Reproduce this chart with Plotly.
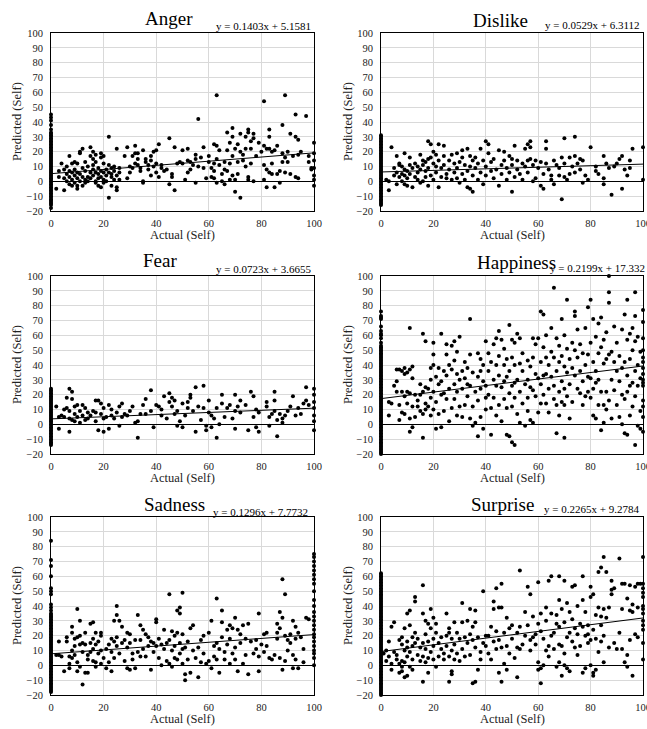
import plotly.graph_objects as go

W, H = 647, 729

# ---------------- DATA ----------------
titles = ["Anger", "Dislike", "Fear", "Happiness", "Sadness", "Surprise"]
slopes = [0.1403, 0.0529, 0.0723, 0.2199, 0.1296, 0.2265]
intercepts = [5.1581, 6.3112, 3.6655, 17.332, 7.7732, 9.2784]
equations = ["y = 0.1403x + 5.1581", "y = 0.0529x + 6.3112", "y = 0.0723x + 3.6655",
             "y = 0.2199x + 17.332", "y = 0.1296x + 7.7732", "y = 0.2265x + 9.2784"]
x_ticks = [0, 20, 40, 60, 80, 100]
y_ticks = [-20, -10, 0, 10, 20, 30, 40, 50, 60, 70, 80, 90, 100]

anger_pts = [(2,-5),(3,3),(3,7),(4,12),(5,8),(5,-6),(5,2),(6,10),(6,5),(6,0),(7,-2),(7,7),(7,17),(7,3),(8,1),(8,-3),(8,6),(8,12),(9,13),(9,4),(9,-1),(9,8),(10,2),(10,-5),(10,6),(10,12),(10,-3),
    (11,20),(11,19),(11,5),(11,0),(12,22),(12,9),(12,3),(12,-3),(13,13),(13,7),(13,1),(13,-1),(14,10),(14,3),(14,0),(15,23),(15,17),(15,6),(15,2),(16,15),(16,11),(16,8),(16,4),(16,20),(17,18),(17,13),(17,6),(17,0),(17,-1),(18,9),(18,5),(18,2),(18,-3),(19,19),(19,16),(19,7),(19,3),(19,-4),(20,17),(20,12),(20,6),(20,1),(20,-1),
    (21,8),(21,4),(21,0),(22,11),(22,6),(22,-11),(22,30),(23,9),(23,3),(23,-3),(23,5),(24,7),(24,1),(24,10),(25,22),(25,4),(25,-6),(25,-4),(26,9),(26,6),(26,1),(28,17),(29,23),(29,2),(30,6),(30,10),
    (31,17),(31,9),(32,24),(32,19),(32,12),(33,19),(33,15),(33,11),(34,9),(34,7),(35,-1),(35,0),(35,21),(36,15),(36,13),(37,8),(37,11),(38,17),(38,14),(38,4),(39,10),(39,20),(40,6),(40,12),(40,21),
    (41,25),(41,3),(42,11),(42,9),(43,7),(44,8),(45,29),(45,-2),(46,5),(46,3),(47,-6),(47,23),(48,12),(49,13),(50,12),(50,21),(51,1),
    (52,22),(52,14),(52,6),(53,13),(53,8),(54,11),(55,-1),(55,15),(55,18),(56,42),(56,10),(57,16),(58,23),(58,9),(59,2),(60,17),(60,13),
    (61,9),(61,3),(62,25),(62,12),(62,7),(62,2),(63,58),(63,24),(63,15),(63,-1),(64,21),(64,11),(65,5),(65,0),(66,13),(66,8),(66,-2),(67,33),(67,21),(67,7),(68,26),(68,12),(68,1),(69,36),(69,30),(69,17),(69,4),(70,22),(70,1),(70,-7),
    (71,25),(71,13),(71,5),(72,20),(72,-11),(72,32),(73,18),(73,14),(74,30),(74,22),(74,10),(75,35),(75,33),(75,3),(75,1),(76,27),(76,22),(76,12),(77,32),(77,29),(77,0),(78,17),(79,26),(80,20),
    (81,54),(81,24),(81,11),(81,1),(82,22),(82,-4),(82,8),(83,35),(83,30),(83,22),(83,6),(84,20),(84,12),(84,5),(85,-4),(85,21),(86,24),(86,5),(87,-1),(87,7),(88,38),(88,19),(88,13),(89,58),(89,16),(89,6),
    (90,20),(90,13),(91,32),(91,5),(92,17),(93,30),(93,45),(93,3),(94,28),(94,18),(94,2),(95,20),(97,44),(98,17),(98,13),(99,9),(99,8),
    (100,26),(100,19),(100,14),(100,9),(100,4),(100,-3),(100,1)]
anger_zero_y = [-18,-16,-15,-14,-13,-12,-11,-10,-9,-8,-7,-6,-5,-4,-3,-2,-1,0,1,2,3,4,5,6,7,8,9,10,11,12,13,14,15,16,17,18,19,20,21,22,23,24,25,26,27,28,29,30,31,32,33,35,38,41,43,45]

dislike_pts = [(2,1),(3,-6),(3,0),(4,23),(5,9),(5,4),(6,17),(6,-2),(6,6),(7,12),(7,11),(7,3),(8,10),(8,5),(8,0),(9,19),(9,8),(9,-2),(9,4),(10,7),(10,2),(10,-3),(11,16),(11,11),(11,5),(12,-4),(12,9),(13,12),(13,3),(14,10),(14,6),(14,1),(15,18),(15,8),(15,-1),(16,14),(16,11),(16,0),(17,13),(17,7),(17,3),(18,27),(18,15),(18,9),(18,-3),(19,25),(19,16),(19,4),(20,20),(20,12),(20,1),
    (21,18),(21,10),(21,6),(22,25),(22,14),(22,-4),(23,9),(23,3),(24,17),(24,24),(24,11),(25,5),(25,2),(26,14),(26,8),(27,1),(27,18),(28,12),(28,6),(29,19),(29,9),(29,2),(30,13),(30,-1),(31,21),(31,16),(31,5),(32,11),(32,1),(33,22),(33,7),(33,-4),(34,17),(34,10),(34,-5),(35,14),(35,-7),(35,4),(36,9),(36,16),(37,12),(37,1),(38,22),(38,6),(39,-2),(39,14),(40,27),(40,10),(40,4),
    (41,19),(41,25),(42,13),(42,7),(43,2),(43,15),(44,8),(45,-3),(45,21),(46,11),(46,5),(47,20),(47,14),(48,1),(48,9),(49,17),(49,6),(50,-7),(50,15),(50,11),(51,3),(51,24),(52,8),(52,14),(53,5),(54,12),(54,1),(55,22),(55,10),(56,14),(56,25),(56,6),(57,27),(57,15),(57,23),(58,11),(58,0),(59,14),(59,2),(60,9),
    (61,-3),(61,13),(62,5),(62,-5),(63,27),(63,22),(63,12),(64,8),(65,1),(65,4),(66,14),(66,-2),(67,11),(68,9),(68,4),(69,-12),(69,16),(70,29),(70,3),(70,12),(71,1),(72,5),(72,16),(73,10),(74,30),(74,17),(74,6),(75,12),(76,15),(76,8),(77,-1),(77,14),(78,4),(79,1),(80,23),
    (82,10),(82,7),(83,5),(85,17),(85,-2),(85,2),(86,12),(87,9),(88,-9),(89,10),(90,12),(91,15),(92,17),(92,-5),(93,8),(94,4),(95,14),(95,9),(96,22),(100,23),(100,1)]
dislike_zero_y = [-16,-15,-14,-13,-12,-11,-10,-9,-8,-7,-6,-5,-4,-3,-2,-1,0,1,2,3,4,5,6,7,8,9,10,11,12,13,14,15,16,17,18,19,20,21,22,23,24,25,26,27,28,29,30,31]

fear_pts = [(2,12),(3,-3),(3,5),(4,6),(5,10),(5,5),(6,18),(6,11),(7,24),(7,-5),(7,9),(7,4),(8,22),(8,17),(8,3),(9,12),(9,7),(9,2),(10,13),(10,5),(11,9),(11,1),(12,13),(12,6),(13,11),(13,3),(14,8),(14,4),(15,6),(16,9),(17,16),(17,8),(17,2),(18,16),(18,-4),(19,14),(19,7),(20,-5),(20,4),(20,11),
    (21,5),(22,13),(22,-3),(23,10),(23,6),(24,4),(25,8),(26,12),(26,-1),(27,14),(27,5),(28,7),(29,6),(30,9),(31,12),(32,1),(33,2),(33,-9),(34,7),(35,13),(36,17),(36,7),(38,23),(38,9),(39,-2),(40,13),
    (41,12),(42,10),(42,6),(43,19),(44,4),(45,15),(45,21),(46,12),(46,18),(47,7),(47,16),(48,9),(48,-1),(49,2),(50,14),(50,-2),(51,6),(52,15),(52,11),(53,18),(53,20),(54,9),(55,25),(55,-5),(56,12),(57,3),(58,26),(58,11),(59,-4),(59,-1),(60,8),(60,16),
    (61,-2),(61,6),(62,4),(63,-9),(63,11),(64,0),(65,20),(65,14),(66,5),(67,11),(68,13),(69,4),(70,20),(70,9),(70,-3),(71,12),(72,16),(72,8),(74,13),(75,-4),(76,22),(77,19),(77,5),(78,-2),(78,10),(79,8),(79,-5),
    (82,15),(82,12),(83,5),(83,-1),(84,7),(85,22),(85,16),(85,9),(86,-8),(86,3),(87,7),(88,4),(88,1),(89,6),(90,9),(91,12),(92,19),(93,6),(94,11),(95,7),(96,14),(97,25),(97,16),(98,13),
    (100,24),(100,20),(100,15),(100,11),(100,6),(100,2),(100,-4)]
fear_zero_y = [-14,-13,-12,-11,-10,-9,-8,-7,-6,-5,-4,-3,-2,-1,0,1,2,3,4,5,6,7,8,9,10,11,12,13,14,15,16,17,18,19,20,21,22,23,24]

happiness_pts = [(3,6),(3,15),(4,14),(5,26),(6,29),(6,22),(6,37),(7,37),(7,13),(7,3),(8,36),(8,22),(8,8),(9,38),(9,34),(9,19),(9,7),(10,22),(10,35),(10,14),(11,65),(11,37),(11,21),(11,4),(11,-5),
    (12,39),(12,31),(12,-2),(12,12),(13,20),(13,5),(14,16),(14,12),(15,27),(15,20),(15,9),(16,-9),(16,61),(16,22),(16,7),(17,56),(17,25),(17,14),(17,10),(18,24),(18,12),(19,38),(19,30),(19,18),(19,6),(20,55),(20,47),(20,40),(20,22),(20,10),
    (21,32),(21,-3),(21,15),(22,38),(22,27),(22,7),(23,61),(23,29),(23,-2),(23,20),(24,36),(24,21),(24,9),(25,54),(25,47),(25,33),(25,17),(26,40),(26,24),(26,2),(27,53),(27,37),(27,11),(28,56),(28,43),(28,27),(28,17),(29,49),(29,34),(29,22),(29,6),(30,59),(30,30),(30,12),
    (31,36),(31,24),(31,5),(32,42),(32,31),(32,13),(33,38),(33,27),(33,19),(34,71),(34,47),(34,26),(34,4),(35,35),(35,-1),(35,12),(36,22),(36,1),(37,48),(37,32),(37,-8),(37,16),(38,44),(38,36),(38,24),(38,5),(39,40),(39,-3),(39,29),(40,56),(40,26),(40,10),(40,18),
    (41,48),(41,36),(41,20),(42,-7),(42,11),(42,42),(43,54),(43,30),(43,18),(44,58),(44,40),(44,26),(44,6),(45,63),(45,46),(45,33),(45,13),(46,57),(46,25),(46,2),(47,51),(47,40),(47,29),(47,17),(48,44),(48,-7),(48,32),(48,11),(49,67),(49,36),(49,21),(49,-8),(50,57),(50,45),(50,26),(50,12),(50,-12),
    (51,55),(51,40),(51,28),(51,18),(51,-14),(52,61),(52,30),(52,7),(53,58),(53,41),(53,22),(53,1),(54,48),(54,36),(54,14),(55,27),(55,-1),(56,43),(56,30),(56,18),(56,9),(57,39),(57,3),(57,25),(58,58),(58,45),(58,23),(58,1),(59,34),(59,19),(59,54),(60,58),(60,31),(60,8),
    (61,76),(61,42),(61,27),(61,14),(62,74),(62,52),(62,33),(62,20),(63,60),(63,45),(63,34),(63,14),(64,40),(64,24),(64,8),(65,65),(65,49),(65,32),(66,92),(66,45),(66,26),(66,17),(67,-6),(67,58),(67,36),(67,13),(68,53),(68,42),(68,22),(68,6),(69,71),(69,46),(69,29),(69,15),(70,60),(70,39),(70,-9),(70,13),(70,24),
    (71,84),(71,51),(71,35),(71,19),(72,44),(72,27),(72,4),(73,55),(73,38),(73,15),(74,76),(74,73),(74,50),(74,33),(75,64),(75,45),(75,24),(76,54),(76,36),(76,21),(77,48),(77,29),(77,13),(78,65),(78,40),(78,19),(79,79),(79,47),(79,32),(79,22),(80,84),(80,55),(80,31),(80,18),
    (81,71),(81,42),(81,24),(81,6),(82,59),(82,36),(82,28),(82,4),(83,68),(83,48),(83,30),(83,13),(84,72),(84,-4),(84,52),(84,22),(85,57),(85,41),(85,13),(85,1),(86,62),(86,44),(86,22),(86,10),(87,100),(87,89),(87,82),(87,47),(87,16),(88,49),(88,30),(88,4),(89,66),(89,42),(89,23),(90,55),(90,36),(90,13),
    (91,46),(91,29),(91,5),(92,64),(92,38),(92,20),(92,0),(93,74),(93,42),(93,17),(93,-6),(94,84),(94,57),(94,33),(94,-7),(94,22),(95,61),(95,44),(95,26),(95,6),(96,65),(96,50),(96,28),(96,12),(97,89),(97,73),(97,56),(97,36),(97,-14),(97,19),(98,59),(98,40),(98,-1),(98,26),(99,49),(99,31),(99,-3),(99,9),
    (100,77),(100,69),(100,58),(100,50),(100,45),(100,42),(100,38),(100,34),(100,30),(100,28),(100,26),(100,16),(100,12),(100,5),(100,-5)]
happiness_zero_y = [-20,-19,-18,-17,-16,-15,-14,-13,-12,-11,-10,-9,-8,-7,-6,-5,-4,-3,-2,-1,0,1,2,3,4,5,6,7,8,9,10,11,12,13,14,15,16,17,18,19,20,21,22,23,24,25,26,27,28,29,30,31,32,33,34,35,36,37,38,39,40,41,42,43,44,45,46,47,48,49,50,51,52,53,55,58,60,61,63,66,71,72,73,76]

sadness_pts = [(2,7),(3,16),(3,7),(4,6),(5,-4),(6,16),(6,19),(7,6),(7,1),(7,-2),(8,26),(8,22),(8,10),(8,5),(9,18),(9,13),(9,7),(10,38),(10,19),(10,2),(10,-4),(11,30),(11,20),(11,14),(11,-1),(12,15),(12,9),(12,-13),(13,22),(13,14),(13,-5),(14,7),(14,4),(14,-5),(15,28),(15,15),(15,9),(16,29),(16,18),(16,3),(16,11),(17,22),(17,14),(17,2),(17,-1),(18,16),(18,8),(19,22),(19,20),(19,10),(19,1),(20,5),
    (21,-2),(21,11),(22,14),(22,2),(23,18),(23,9),(23,-4),(24,30),(24,16),(24,5),(25,40),(25,34),(25,19),(25,13),(26,30),(26,8),(27,26),(27,15),(28,17),(28,3),(29,22),(29,-2),(29,12),(30,21),(30,-3),(30,15),(31,8),(31,4),(32,17),(32,-2),(33,34),(33,9),(34,17),(34,27),(34,6),(35,24),(35,11),(36,21),(36,6),(37,13),(37,19),(38,16),(38,-3),(39,15),(39,9),(40,29),(40,31),(40,13),
    (41,5),(41,18),(42,14),(42,0),(43,24),(43,11),(44,15),(44,3),(45,48),(45,17),(45,1),(46,23),(46,10),(46,-1),(47,20),(47,13),(47,5),(48,22),(48,4),(48,37),(49,39),(49,35),(49,15),(49,8),(50,21),(50,49),(50,11),(50,1),(51,-6),(51,-10),(51,12),(52,4),(52,16),(53,25),(53,-5),(54,27),(54,10),(55,5),(56,-8),(56,12),(57,17),(57,2),(58,20),(58,8),(59,1),(60,22),(60,3),
    (61,30),(61,-2),(62,13),(62,6),(63,45),(63,15),(63,4),(64,11),(64,-5),(65,29),(65,37),(65,19),(66,9),(66,4),(67,24),(67,14),(68,27),(68,18),(68,1),(69,25),(69,8),(70,32),(70,12),(70,4),(71,-4),(71,24),(72,21),(72,15),(73,27),(73,1),(74,18),(74,7),(75,-6),(75,28),(76,16),(77,8),(78,17),(78,11),(79,35),(79,-4),(79,6),(80,14),
    (81,21),(81,9),(82,22),(82,13),(83,5),(84,4),(85,7),(86,28),(86,22),(86,18),(87,36),(87,25),(87,5),(88,58),(88,32),(88,-3),(89,48),(89,20),(89,3),(90,17),(90,10),(91,21),(91,15),(92,30),(92,-2),(92,7),(93,26),(93,18),(93,4),(94,22),(94,-2),(95,19),(96,11),(96,2),(97,32),(98,31),
    (100,75),(100,73),(100,70),(100,67),(100,64),(100,61),(100,58),(100,55),(100,50),(100,44),(100,40),(100,36),(100,33),(100,30),(100,27),(100,24),(100,21),(100,19),(100,16),(100,13),(100,10),(100,8),(100,5),(100,0)]
sadness_zero_y = [-18,-17,-16,-15,-14,-13,-12,-11,-10,-9,-8,-7,-6,-5,-4,-3,-2,-1,0,1,2,3,4,5,6,7,8,9,10,11,12,13,14,15,16,17,18,19,20,21,22,23,24,25,26,27,28,29,30,31,32,33,34,35,37,39,41,48,50,52,60,67,71,84]

surprise_pts = [(1,8),(2,3),(2,10),(3,16),(3,6),(4,-3),(4,1),(4,26),(5,29),(5,9),(6,4),(6,7),(7,17),(7,1),(7,-5),(8,19),(8,14),(8,3),(8,-1),(8,-4),(9,25),(9,10),(9,2),(9,-8),(10,35),(10,16),(10,12),(10,6),(10,-7),(11,37),(11,27),(11,9),(11,-1),(12,19),(12,13),(12,4),(12,-3),(13,46),(13,43),(13,22),(13,15),(14,18),(14,7),(15,12),(15,3),(16,54),(16,35),(16,15),(16,-11),(16,6),(17,30),(17,21),(17,11),(17,2),(18,28),(18,16),(18,5),(18,-5),(19,38),(19,25),(19,9),(20,32),(20,18),(20,13),(20,4),
    (21,28),(21,22),(21,-1),(22,15),(22,6),(23,19),(23,11),(24,8),(24,4),(25,35),(25,20),(25,13),(26,-11),(26,25),(26,22),(26,6),(27,18),(27,10),(27,-4),(27,-6),(28,29),(28,14),(28,4),(29,22),(29,8),(30,18),(30,3),(31,42),(31,29),(31,11),(32,19),(32,6),(33,30),(33,15),(34,38),(34,21),(34,7),(35,-12),(35,26),(35,17),(36,-11),(36,37),(36,29),(36,12),(37,19),(37,-3),(38,9),(38,4),(39,15),(39,50),(40,13),(40,20),
    (41,20),(41,8),(42,26),(42,4),(43,43),(43,38),(43,16),(44,52),(44,23),(44,11),(45,39),(45,-5),(45,17),(46,55),(46,39),(46,-11),(46,12),(47,1),(47,22),(48,32),(48,13),(48,-3),(49,25),(49,8),(50,27),(50,18),(51,5),(52,22),(52,-8),(52,12),(53,64),(53,26),(53,11),(54,14),(55,36),(55,20),(56,53),(56,27),(57,48),(57,17),(57,10),(58,33),(58,19),(59,21),(59,14),(60,56),(60,28),(60,2),(60,-3),
    (61,-12),(61,35),(61,23),(61,-2),(62,18),(62,0),(63,39),(63,30),(63,10),(64,57),(64,13),(64,6),(65,20),(65,35),(65,60),(66,22),(66,11),(67,28),(67,-1),(67,34),(68,60),(68,44),(68,26),(68,14),(68,2),(69,38),(69,13),(69,-7),(70,57),(70,29),(70,8),(70,0),
    (71,42),(71,-2),(71,19),(72,36),(72,22),(72,-4),(73,53),(73,31),(73,16),(74,54),(74,25),(74,12),(75,40),(75,21),(75,7),(76,28),(76,13),(77,60),(77,-5),(77,44),(77,26),(78,36),(78,20),(78,-2),(79,27),(79,21),(79,15),(80,53),(80,46),(80,17),(80,0),
    (81,48),(81,-5),(81,24),(81,-7),(82,34),(82,18),(82,-3),(83,63),(83,39),(83,9),(84,66),(84,33),(84,27),(84,16),(85,73),(85,38),(85,20),(85,2),(86,63),(86,32),(87,39),(87,12),(88,51),(88,57),(88,48),(89,52),(89,15),(90,11),
    (91,72),(91,22),(92,55),(92,38),(92,11),(93,55),(93,2),(94,7),(94,-1),(94,45),(95,54),(95,37),(95,17),(96,41),(96,-7),(96,36),(97,21),(97,53),(98,55),(98,39),(98,19),(99,55),
    (100,73),(100,55),(100,52),(100,49),(100,46),(100,40),(100,38),(100,35),(100,30),(100,27),(100,24),(100,15),(100,4)]
surprise_zero_y = [-20,-19,-18,-17,-16,-15,-14,-13,-12,-11,-10,-9,-8,-7,-6,-5,-4,-3,-2,-1,0,1,2,3,4,5,6,7,8,9,10,11,12,13,14,15,16,17,18,19,20,21,22,23,24,25,26,27,28,29,30,31,32,33,34,35,36,37,38,39,40,41,42,43,44,45,46,47,48,49,50,51,52,53,54,55,56,57,58,59,60,61,62]

all_pts = [anger_pts, dislike_pts, fear_pts, happiness_pts, sadness_pts, surprise_pts]
all_zero = [anger_zero_y, dislike_zero_y, fear_zero_y, happiness_zero_y, sadness_zero_y, surprise_zero_y]

# ---------------- LAYOUT (page pixels) ----------------
col_x = [(51, 314), (381, 643)]
row_y = [(33, 211), (276, 454), (517, 695)]
title_pos = [(169, 18), (500, 20), (160, 260), (516, 262), (174, 504), (502, 504)]
eq_pos = [(313, 26, "right"), (642, 25, "right"), (313, 269, "right"),
          (647, 268, "right"), (310, 512, "right"), (641, 509, "right")]
ytitle_x = [17, 348]

SERIF = "Liberation Serif"

def px(x):
    return x / W

def py(y):
    return 1 - y / H

fig = go.Figure()
layout = dict(width=W, height=H, margin=dict(l=0, r=0, t=0, b=0, autoexpand=False),
              paper_bgcolor="white", plot_bgcolor="white", showlegend=False,
              font=dict(family=SERIF, color="#000"))
annotations = []

for i in range(6):
    r, c = divmod(i, 2)
    ax = "" if i == 0 else str(i + 1)
    x0, x1 = col_x[c]
    yt, yb = row_y[r]
    pts = all_pts[i]
    xs = [0] * len(all_zero[i]) + [p[0] for p in pts]
    ys = list(all_zero[i]) + [p[1] for p in pts]
    fig.add_trace(go.Scatter(x=xs, y=ys, mode="markers", xaxis="x" + ax, yaxis="y" + ax,
                             marker=dict(size=4, color="black"), cliponaxis=False,
                             hoverinfo="skip"))
    fig.add_trace(go.Scatter(x=[0, 100], y=[intercepts[i], intercepts[i] + slopes[i] * 100],
                             mode="lines", xaxis="x" + ax, yaxis="y" + ax,
                             line=dict(color="black", width=1), hoverinfo="skip"))
    layout["xaxis" + ax] = dict(domain=[px(x0), px(x1)], range=[0, 100], anchor="y" + ax,
                                tickvals=x_ticks, showgrid=True, gridcolor="#d9d9d9", gridwidth=1,
                                zeroline=False, showline=True, mirror=True, linecolor="black",
                                linewidth=1, ticks="", automargin=False, ticklabeloverflow="allow",
                                tickfont=dict(size=10.5, color="#222", family=SERIF),
                                ticklabelstandoff=2)
    layout["yaxis" + ax] = dict(domain=[py(yb), py(yt)], range=[-20, 100], anchor="x" + ax,
                                tickvals=y_ticks, showgrid=True, gridcolor="#d9d9d9", gridwidth=1,
                                zeroline=True, zerolinecolor="black", zerolinewidth=1,
                                showline=True, mirror=True, linecolor="black", linewidth=1,
                                ticks="", automargin=False, ticklabeloverflow="allow",
                                tickfont=dict(size=10.5, color="#222", family=SERIF),
                                ticklabelstandoff=5)
    tx, ty = title_pos[i]
    annotations.append(dict(text=titles[i], x=px(tx), y=py(ty), xref="paper", yref="paper",
                            showarrow=False, xanchor="center", yanchor="middle",
                            font=dict(size=19, family=SERIF, color="black")))
    ex, ey, anc = eq_pos[i]
    annotations.append(dict(text=equations[i], x=px(ex), y=py(ey), xref="paper", yref="paper",
                            showarrow=False, xanchor=anc, yanchor="middle",
                            font=dict(size=11, family=SERIF, color="black")))
    annotations.append(dict(text="Actual (Self)", x=px((x0 + x1) / 2), y=py(yb + 24),
                            xref="paper", yref="paper", showarrow=False,
                            xanchor="center", yanchor="middle",
                            font=dict(size=12.5, family=SERIF, color="#222")))
    annotations.append(dict(text="Predicted (Self)", x=px(ytitle_x[c]), y=py((yt + yb) / 2),
                            xref="paper", yref="paper", showarrow=False, textangle=-90,
                            xanchor="center", yanchor="middle",
                            font=dict(size=12.5, family=SERIF, color="#222")))

layout["annotations"] = annotations
fig.update_layout(**layout)
# remove the browser's default page margin so the 647x729 figure fills the window exactly
fig.write_html("out.html", config={"displayModeBar": False},
               post_script="document.body.style.margin='0px';document.body.style.overflow='hidden';")
